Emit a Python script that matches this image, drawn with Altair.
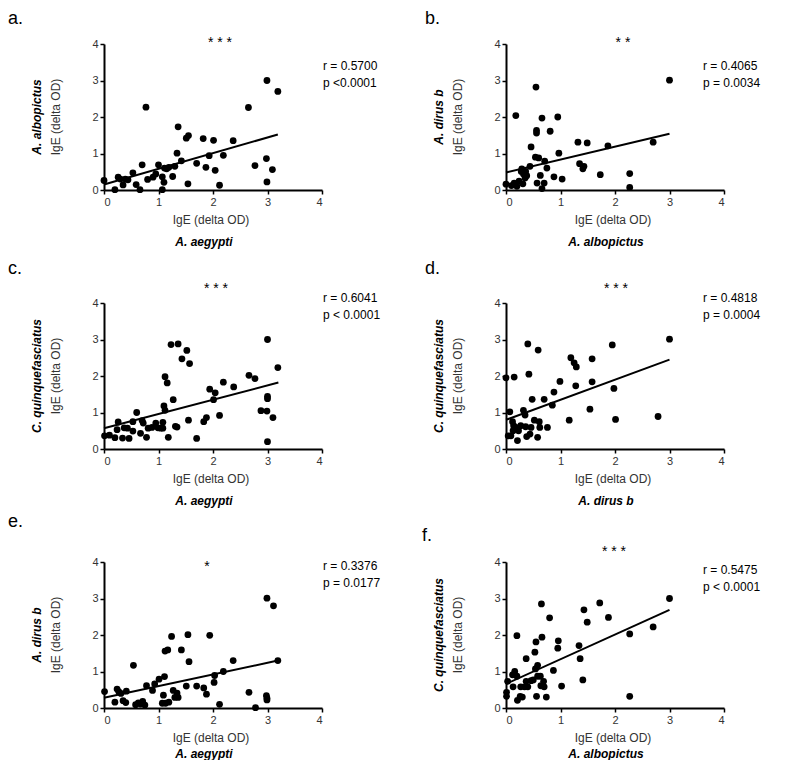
import altair as alt
import pandas as pd

FONT = "Liberation Sans"

# ---------------- data ----------------
a_x = [0, 0.2, 0.26, 0.3, 0.35, 0.39, 0.44, 0.53, 0.59, 0.66, 0.7, 0.77, 0.8, 0.9, 0.95, 1.0, 1.07, 1.07,
       1.1, 1.11, 1.15, 1.19, 1.26, 1.3, 1.34, 1.36, 1.42, 1.51, 1.55, 1.54, 1.7, 1.82, 1.87, 1.93, 2.01,
       2.04, 2.12, 2.19, 2.37, 2.65, 2.77, 2.98, 2.99, 2.99, 3.09, 3.19]
a_y = [0.26, 0.01, 0.35, 0.3, 0.14, 0.3, 0.28, 0.47, 0.15, 0.01, 0.69, 2.27, 0.29, 0.35, 0.44, 0.69, 0.36, 0.01,
       0.21, 0.6, 0.58, 0.62, 0.37, 0.65, 1.01, 1.73, 0.8, 1.42, 1.49, 0.17, 0.73, 1.41, 0.62, 0.94, 1.36,
       0.54, 0.13, 0.95, 1.35, 2.26, 0.67, 0.86, 3.0, 0.22, 0.56, 2.7]
a_fit_x = [0, 3.19]
a_fit_y = [0.15, 1.52]

b_x = [0, 0.1, 0.15, 0.18, 0.2, 0.24, 0.28, 0.29, 0.31, 0.32, 0.35, 0.36, 0.38, 0.44, 0.46, 0.54, 0.55, 0.56,
       0.56, 0.57, 0.6, 0.63, 0.66, 0.66, 0.7, 0.71, 0.75, 0.81, 0.88, 0.95, 0.97, 1.03, 1.32, 1.35, 1.41,
       1.43, 1.49, 1.73, 1.87, 2.27, 2.27, 2.7, 3.0]
b_y = [0.16, 0.12, 0.19, 2.04, 0.1, 0.24, 0.51, 0.58, 0.17, 0.44, 0.33, 0.51, 0.39, 0.65, 1.18, 0.9, 2.82, 1.56,
       1.63, 0.19, 0.88, 0.4, 1.97, 0.04, 0.19, 0.79, 0.6, 1.61, 0.36, 2.0, 1.01, 0.3, 1.31, 0.72, 0.58,
       0.65, 1.29, 0.42, 1.21, 0.45, 0.07, 1.31, 3.01]
b_fit_x = [0, 3.0]
b_fit_y = [0.48, 1.54]

c_x = [0.01, 0.1, 0.2, 0.26, 0.24, 0.34, 0.37, 0.43, 0.46, 0.53, 0.53, 0.6, 0.67, 0.7, 0.72, 0.78, 0.81, 0.88,
       0.95, 0.99, 1.04, 1.08, 1.08, 1.1, 1.12, 1.12, 1.16, 1.18, 1.23, 1.27, 1.31, 1.34, 1.36, 1.43, 1.52,
       1.57, 1.55, 1.7, 1.83, 1.88, 1.94, 2.04, 2.01, 2.12, 2.19, 2.38, 2.66, 2.77, 2.88, 2.99, 3.0, 3.0,
       3.0, 3.0, 3.1, 3.19]
c_y = [0.36, 0.38, 0.31, 0.74, 0.53, 0.3, 0.58, 0.57, 0.29, 0.49, 0.75, 1.0, 0.43, 0.78, 0.71, 0.32, 0.57, 0.59,
       0.71, 0.58, 0.57, 0.73, 0.57, 1.18, 1.06, 1.98, 1.81, 0.32, 2.86, 1.35, 0.62, 0.6, 2.88, 2.47, 2.7,
       2.34, 0.79, 0.29, 0.75, 0.86, 1.64, 1.54, 1.35, 0.92, 1.83, 1.7, 2.02, 1.93, 1.05, 1.04, 3.0, 1.44,
       1.38, 0.2, 0.86, 2.23]
c_fit_x = [0, 3.2]
c_fit_y = [0.57, 1.82]

d_x = [0, 0.04, 0.07, 0.09, 0.12, 0.13, 0.15, 0.14, 0.18, 0.21, 0.23, 0.27, 0.32, 0.35, 0.36, 0.38, 0.4, 0.42,
       0.44, 0.46, 0.48, 0.52, 0.58, 0.59, 0.61, 0.62, 0.7, 0.76, 0.85, 0.88, 0.99, 1.16, 1.19, 1.25, 1.28,
       1.29, 1.54, 1.58, 1.58, 1.95, 1.98, 2.01, 2.79, 3.0]
d_y = [1.95, 0.36, 1.02, 0.36, 0.75, 0.5, 1.97, 0.64, 0.59, 0.23, 0.5, 0.64, 1.06, 0.93, 0.61, 0.34, 2.88, 2.05,
       0.41, 0.59, 1.36, 0.79, 0.32, 2.71, 0.75, 0.59, 1.36, 0.59, 1.2, 1.56, 1.85, 0.79, 2.5, 2.36, 1.73,
       2.25, 1.09, 2.47, 1.84, 2.85, 1.66, 0.81, 0.89, 3.01]
d_fit_x = [0, 3.0]
d_fit_y = [0.8, 2.45]

e_x = [0.01, 0.2, 0.24, 0.27, 0.31, 0.35, 0.4, 0.41, 0.54, 0.58, 0.63, 0.67, 0.71, 0.75, 0.78, 0.89, 0.93, 1.01,
       1.07, 1.09, 1.11, 1.13, 1.12, 1.17, 1.19, 1.24, 1.27, 1.3, 1.34, 1.36, 1.42, 1.51, 1.54, 1.56, 1.7,
       1.83, 1.88, 1.94, 2.02, 2.03, 2.12, 2.19, 2.37, 2.66, 2.78, 2.98, 2.99, 2.99, 2.99, 3.11, 3.19]
e_y = [0.45, 0.16, 0.52, 0.45, 0.4, 0.2, 0.15, 0.46, 1.17, 0.09, 0.14, 0.11, 0.18, 0.08, 0.61, 0.48, 0.66, 0.79,
       0.13, 0.35, 0.86, 0.13, 1.56, 1.59, 0.16, 1.96, 0.48, 0.29, 0.41, 0.29, 1.59, 0.6, 2.01, 1.27, 0.6,
       0.55, 0.38, 1.99, 0.7, 0.89, 0.1, 1.0, 1.3, 0.43, 0.01, 0.34, 0.27, 0.22, 3.01, 2.8, 1.3]
e_fit_x = [0, 3.19]
e_fit_y = [0.28, 1.3]

f_x = [0.01, 0.01, 0.03, 0.12, 0.16, 0.13, 0.2, 0.2, 0.21, 0.26, 0.27, 0.3, 0.34, 0.37, 0.37, 0.4, 0.46, 0.5,
       0.53, 0.55, 0.54, 0.56, 0.58, 0.58, 0.63, 0.65, 0.66, 0.64, 0.69, 0.7, 0.74, 0.8, 0.87, 0.95, 0.96,
       1.02, 1.34, 1.36, 1.41, 1.43, 1.49, 1.72, 1.88, 2.27, 2.27, 2.7, 3.0]
f_y = [0.43, 0.32, 0.73, 0.91, 1.0, 0.58, 0.87, 1.98, 0.21, 0.32, 0.58, 0.3, 0.58, 0.73, 1.35, 0.58, 0.75, 0.77,
       1.53, 1.81, 1.07, 0.32, 1.17, 0.87, 0.87, 2.85, 1.94, 0.61, 0.73, 0.58, 0.3, 2.47, 1.03, 1.64, 1.84,
       0.6, 1.71, 1.35, 0.77, 2.69, 2.35, 2.88, 2.48, 2.03, 0.32, 2.22, 3.0]
f_fit_x = [0, 3.0]
f_fit_y = [0.66, 2.69]

letters = ["a.", "b.", "c.", "d.", "e.", "f."]
stars = ["* * *", "* *", "* * *", "* * *", "*", "* * *"]
r_texts = ["r  = 0.5700", "r = 0.4065", "r = 0.6041", "r = 0.4818", "r = 0.3376", "r = 0.5475"]
p_texts = ["p <0.0001", "p = 0.0034", "p < 0.0001", "p = 0.0004", "p = 0.0177", "p < 0.0001"]
y_species = ["A. albopictus", "A. dirus b", "C. quinquefasciatus", "C. quinquefasciatus",
             "A. dirus b", "C. quinquefasciatus"]
x_species = ["A. aegypti", "A. albopictus", "A. aegypti", "A. dirus b", "A. aegypti", "A. albopictus"]
axis_title = "IgE (delta OD)"
ticks = [0, 1, 2, 3, 4]

# ---------------- layout (pixels relative to each plot area) ----------------
W, H = 218, 146
layout = [
    dict(lx=-96, ly=-25, sx=116, sy=-1, rx=219, ry=22, xt=30, xs=52),
    dict(lx=-81, ly=-25, sx=117, sy=-1, rx=197, ry=22, xt=30, xs=52),
    dict(lx=-96, ly=-34, sx=112, sy=-14, rx=219, ry=-5, xt=30, xs=52),
    dict(lx=-81, ly=-34, sx=110, sy=-14, rx=197, ry=-5, xt=30, xs=52),
    dict(lx=-96, ly=-40, sx=103, sy=5, rx=219, ry=4, xt=30, xs=46),
    dict(lx=-84, ly=-26, sx=108, sy=-10, rx=197, ry=8, xt=30, xs=46),
]

series = [(a_x, a_y, a_fit_x, a_fit_y), (b_x, b_y, b_fit_x, b_fit_y), (c_x, c_y, c_fit_x, c_fit_y),
          (d_x, d_y, d_fit_x, d_fit_y), (e_x, e_y, e_fit_x, e_fit_y), (f_x, f_y, f_fit_x, f_fit_y)]


def make_axis():
    return alt.Axis(values=ticks, format="d", grid=False, title=None, domainColor="black", domainWidth=2,
                    tickColor="black", tickWidth=1.5, tickSize=4, labelFontSize=11, labelOverlap=False,
                    labelColor="#333", labelFont=FONT, labelPadding=2)


def text_layer(txt, x, y, size=12, weight="normal", style="normal", angle=0, align="center",
               baseline="middle", color="black"):
    return alt.Chart(pd.DataFrame({"t": [txt]})).mark_text(
        font=FONT, fontSize=size, fontWeight=weight, fontStyle=style, angle=angle,
        align=align, baseline=baseline, color=color
    ).encode(x=alt.value(x), y=alt.value(y), text="t:N")


def panel(i):
    xs, ys, fx, fy = series[i]
    L = layout[i]
    pts = pd.DataFrame({"x": xs, "y": ys})
    fit = pd.DataFrame({"x": fx, "y": fy})
    xsc = alt.Scale(domain=[0, 4], nice=False, zero=False)
    ysc = alt.Scale(domain=[0, 4], nice=False, zero=False)
    points = alt.Chart(pts).mark_circle(size=46, color="black", opacity=1).encode(
        x=alt.X("x:Q", scale=xsc, axis=make_axis()),
        y=alt.Y("y:Q", scale=ysc, axis=make_axis()),
    )
    line = alt.Chart(fit).mark_line(color="black", strokeWidth=2).encode(
        x=alt.X("x:Q", scale=xsc, axis=make_axis()), y=alt.Y("y:Q", scale=ysc, axis=make_axis())
    )
    layers = [
        points, line,
        text_layer(letters[i], L["lx"], L["ly"], size=18, align="left"),
        text_layer(stars[i], L["sx"], L["sy"], size=14),
        text_layer(r_texts[i], L["rx"], L["ry"], size=12, align="left"),
        text_layer(p_texts[i], L["rx"], L["ry"] + 17, size=12, align="left"),
        text_layer(axis_title, -48, H / 2, size=12, angle=270, color="#333"),
        text_layer(y_species[i], -67, H / 2, size=12, weight="bold", style="italic", angle=270),
        text_layer(axis_title, 107, H + L["xt"], size=12, color="#333"),
        text_layer(x_species[i], 100, H + L["xs"], size=12, weight="bold", style="italic"),
    ]
    return alt.layer(*layers).properties(width=W, height=H)


chart = alt.concat(
    *[panel(i) for i in range(6)],
    columns=2,
    spacing={"row": 113, "column": 184},
    bounds="flush",
).properties(padding={"left": 0, "top": 2, "right": 0, "bottom": 0},
             background="white").configure_view(stroke=None)

chart.save("out.html", embed_options={"renderer": "svg", "actions": False})
